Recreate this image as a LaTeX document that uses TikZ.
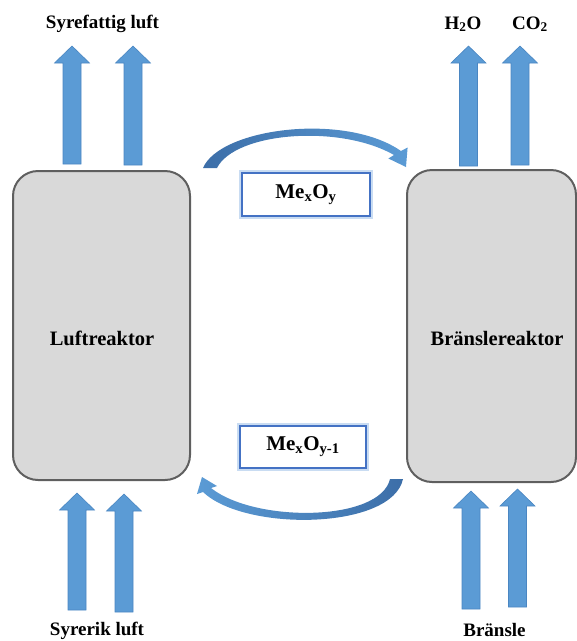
\documentclass[tikz,border=0pt]{standalone}
\usepackage{fontspec}
\setmainfont{Liberation Serif}
\definecolor{arrblue}{HTML}{5B9BD5}
\definecolor{arredge}{HTML}{4A86C2}
\definecolor{reacfill}{HTML}{D9D9D9}
\definecolor{reacedge}{HTML}{5F5F5F}
\definecolor{boxblue}{HTML}{4472C4}
\definecolor{glowblue}{HTML}{C9DCF2}
\definecolor{curvedark}{HTML}{3C6EA8}
\definecolor{curvelight}{HTML}{5B9BD5}
\newcommand\flowarrow[3]{% cx, ytip, ybottom
  \filldraw[flowarr] (#1-9,#3) -- (#1-9,#2+17) -- (#1-17.5,#2+17) -- (#1,#2) -- (#1+17.5,#2+17) -- (#1+9,#2+17) -- (#1+9,#3) -- cycle;
}
\begin{document}
\begin{tikzpicture}[x=1pt,y=-1pt,
  flowarr/.style={fill=arrblue, draw=arredge, line width=0.6pt},
  reactor/.style={draw=reacedge, fill=reacfill, line width=2pt, rounded corners=25pt, inner sep=0pt},
  lbl/.style={font=\fontsize{19}{22}\selectfont\bfseries, anchor=base, inner sep=0pt},
  rlbl/.style={font=\fontsize{20.5}{24}\selectfont\bfseries, anchor=base, inner sep=0pt},
  oxbox/.style={draw=boxblue, fill=white, line width=1.2pt, inner sep=0pt,
    font=\fontsize{21}{24}\selectfont\bfseries},
  glow/.style={draw=glowblue, line width=6pt}]
\useasboundingbox (0,0) rectangle (577,641);
\clip (0,0) rectangle (577,641);

% reactors
\node[reactor, minimum width=177pt, minimum height=309pt] (luft) at (101.5,325.5) {};
\node[reactor, minimum width=169pt, minimum height=312pt] (bransle) at (491.5,326) {};
\node[rlbl] (luftlbl) at (102,345) {Luftreaktor};
\node[rlbl] (branslelbl) at (497,345) {Bränslereaktor};

% flow arrows
\flowarrow{72}{46}{164}
\flowarrow{133}{46}{165}
\flowarrow{468.5}{46}{166}
\flowarrow{520}{46}{165}
\flowarrow{77}{493}{610}
\flowarrow{124}{494}{612}
\flowarrow{471}{491}{609}
\flowarrow{517.5}{489}{607}

% labels
\node[lbl] (syrefattig) at (102.5,28.5) {Syrefattig luft};
\node[lbl] (h2o) at (463,29) {H\textsubscript{2}O};
\node[lbl] (co2) at (530,29) {CO\textsubscript{2}};
\node[lbl] (syrerik) at (97,635) {Syrerik luft};
\node[lbl] (branslein) at (494.5,636) {Bränsle};

% oxide boxes
\draw[glow] (242,173) rectangle (370,216);
\node[oxbox, minimum width=128pt, minimum height=43pt] (ox1) at (306,194.5) {Me\textsubscript{x}O\textsubscript{y}};
\draw[glow] (240,426) rectangle (366,468);
\node[oxbox, minimum width=126pt, minimum height=42pt] (ox2) at (303,447) {Me\textsubscript{x}O\textsubscript{y-1}};

% curved arrows
\shade[left color=curvedark, right color=curvelight]
  (203,168) .. controls (220,128) and (345,112) .. (401,151)
  -- (407.6,147.5) -- (406,167) -- (388.4,158.5) -- (394,155)
  .. controls (340,124) and (235,132) .. (217,168) -- cycle;
\shade[left color=curvelight, right color=curvedark]
  (403,479) .. controls (392,530) and (245,532) .. (203,492)
  -- (197,494) -- (202,477) -- (217,486) -- (211,488)
  .. controls (255,523) and (380,522) .. (390,479) -- cycle;
\end{tikzpicture}
\end{document}
